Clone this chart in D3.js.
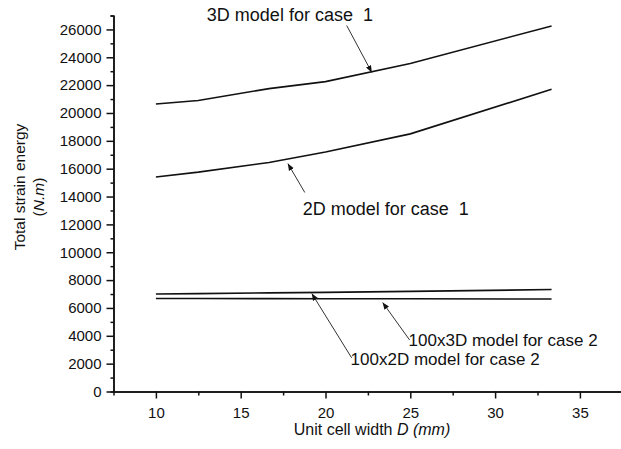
<!DOCTYPE html>
<html>
<head>
<meta charset="utf-8">
<script src="https://d3js.org/d3.v7.min.js"></script>
<style>
  body { margin: 0; background: #fff; }
  svg { font-family: "Liberation Sans", Arial, sans-serif; }
  .axis path, .axis line { stroke: #111; stroke-width: 1.5px; }
  .axis text { font-size: 15px; fill: #111; }
</style>
</head>
<body>
<script>
// Unit cell width D (mm)
var widths = [10, 12.5, 16.67, 20, 25, 33.33];

// Total strain energy (N.m)
var energy3DCase1 = [20650, 20900, 21750, 22250, 23550, 26250],
    energy2DCase1 = [15400, 15750, 16450, 17200, 18500, 21700],
    energy100x2DCase2 = [7000, 7030, 7080, 7120, 7190, 7320],
    energy100x3DCase2 = [6680, 6675, 6670, 6665, 6655, 6640];

var xTicks = [10, 15, 20, 25, 30, 35],
    yTicks = d3.range(0, 26001, 2000);

// labels: text anchor, arrow start and arrow tip, in data units
var notes = [
  {text: "3D model for case\u00a0 1", size: 18, anchor: "middle", tx: 17.9, ty: 26570, x1: 21.25, y1: 26280, x2: 22.73, y2: 22910},
  {text: "2D model for case\u00a0 1", size: 18, anchor: "start", tx: 18.66, ty: 12710, x1: 18.78, y1: 14290, x2: 17.78, y2: 16370},
  {text: "100x3D model for case 2", size: 17, anchor: "start", tx: 24.9, ty: 3280, x1: 24.96, y1: 3700, x2: 23.37, y2: 6390},
  {text: "100x2D model for case 2", size: 17, anchor: "start", tx: 21.48, ty: 1920, x1: 21.54, y1: 2420, x2: 19.19, y2: 7040}
];

var series = [energy3DCase1, energy2DCase1, energy100x2DCase2, energy100x3DCase2];

var svg = d3.select("body").append("svg")
    .attr("width", 621)
    .attr("height", 449);

var x = d3.scaleLinear().domain([7.5, 37.5]).range([113.5, 622.3]),
    y = d3.scaleLinear().domain([0, 27000]).range([391.5, 15.5]);

svg.append("defs").append("marker")
    .attr("id", "head")
    .attr("viewBox", "0 0 10 10")
    .attr("refX", 10)
    .attr("refY", 5)
    .attr("markerWidth", 7)
    .attr("markerHeight", 7)
    .attr("markerUnits", "userSpaceOnUse")
    .attr("orient", "auto")
  .append("path")
    .attr("d", "M0,1L10,5L0,9z")
    .attr("fill", "#111");

// minor ticks
svg.append("g")
    .attr("class", "axis")
    .attr("transform", "translate(" + x.range()[0] + ",0)")
    .call(d3.axisLeft(y).tickValues(d3.range(1000, 27001, 2000)).tickSize(3).tickFormat(""));

svg.append("g")
    .attr("class", "axis")
    .attr("transform", "translate(0," + y.range()[0] + ")")
    .call(d3.axisBottom(x).tickValues(d3.range(12.5, 37.5, 5)).tickSize(4).tickFormat(""));

// major axes
svg.append("g")
    .attr("class", "axis")
    .attr("transform", "translate(" + x.range()[0] + ",0)")
    .call(d3.axisLeft(y).tickValues(yTicks).tickSize(7).tickPadding(5).tickSizeOuter(0)
      .tickFormat(d3.format("d")));

svg.append("g")
    .attr("class", "axis")
    .attr("transform", "translate(0," + y.range()[0] + ")")
    .call(d3.axisBottom(x).tickValues(xTicks).tickSize(7).tickPadding(9).tickSizeOuter(0));

var line = d3.line()
    .x(function(d, i) { return x(widths[i]); })
    .y(function(d) { return y(d); });

svg.selectAll(".series")
    .data(series)
  .enter().append("path")
    .attr("class", "series")
    .attr("d", line)
    .attr("fill", "none")
    .attr("stroke", "#111")
    .attr("stroke-width", 1.6);

var note = svg.selectAll(".note")
    .data(notes)
  .enter().append("g")
    .attr("class", "note");

note.append("line")
    .attr("x1", function(d) { return x(d.x1); })
    .attr("y1", function(d) { return y(d.y1); })
    .attr("x2", function(d) { return x(d.x2); })
    .attr("y2", function(d) { return y(d.y2); })
    .attr("stroke", "#333")
    .attr("stroke-width", 1)
    .attr("marker-end", "url(#head)");

note.append("text")
    .attr("x", function(d) { return x(d.tx); })
    .attr("y", function(d) { return y(d.ty); })
    .attr("text-anchor", function(d) { return d.anchor; })
    .style("font-size", function(d) { return d.size + "px"; })
    .attr("fill", "#111")
    .text(function(d) { return d.text; });

// axis titles
var xt = svg.append("text")
    .attr("x", 372)
    .attr("y", 435)
    .attr("text-anchor", "middle")
    .style("font-size", "16px")
    .attr("fill", "#111");
xt.append("tspan").text("Unit cell width ");
xt.append("tspan").style("font-style", "italic").text("D (mm)");

var yt = svg.append("text")
    .attr("transform", "translate(25,187) rotate(-90)")
    .attr("text-anchor", "middle")
    .style("font-size", "15.5px")
    .attr("fill", "#111");
yt.append("tspan").attr("x", 0).text("Total strain energy");
yt.append("tspan").attr("x", -10).attr("dy", 19).text("(")
  .append("tspan").style("font-style", "italic").text("N.m");
yt.select("tspan:last-child").append("tspan").text(")");
</script>
</body>
</html>
